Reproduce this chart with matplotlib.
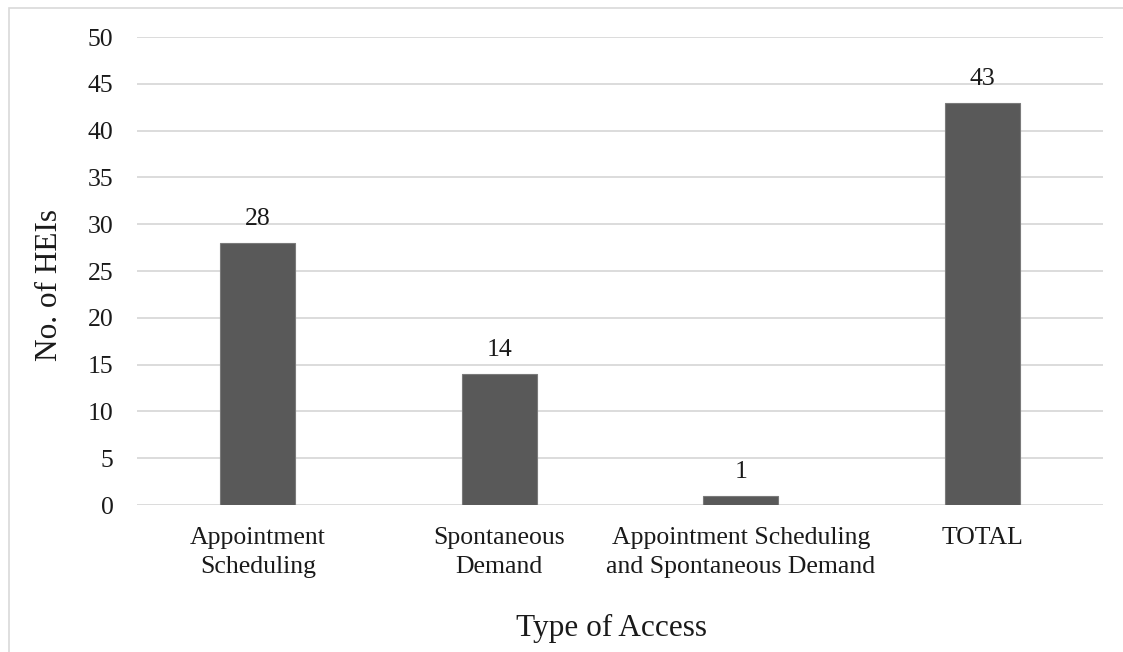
import matplotlib
matplotlib.use("Agg")
import matplotlib.pyplot as plt
from matplotlib.patches import Rectangle

categories = ["Appointment\nScheduling", "Spontaneous\nDemand",
              "Appointment Scheduling\nand Spontaneous Demand", "TOTAL"]
values = [28, 14, 1, 43]
yticks = [0, 5, 10, 15, 20, 25, 30, 35, 40, 45, 50]

plt.rcParams['font.family'] = ['Liberation Serif', 'DejaVu Serif']

W, H = 1123, 652
fig = plt.figure(figsize=(W / 100, H / 100), dpi=100)
fig.patch.set_facecolor("white")

# light border around chart area
fig.add_artist(Rectangle((9 / W, -0.01), 1.2, 1 - 8 / H + 0.01, transform=fig.transFigure,
                         fill=False, edgecolor="#d9d9d9", linewidth=1.2))

ax = fig.add_axes([137 / W, (H - 505) / H, (1103 - 137) / W, (505 - 37) / H])
x = list(range(len(categories)))
ax.bar(x, values, width=0.31, color="#595959", edgecolor="#7a7a7a",
       linewidth=0.8, zorder=3)
ax.set_xlim(-0.5, len(categories) - 0.5)
ax.set_ylim(0, 50)
ax.set_yticks(yticks)
ax.set_xticks(x)
ax.set_xticklabels(categories, fontsize=18.5, linespacing=1.42, color="#1a1a1a")
ax.tick_params(axis="y", length=0, pad=17, labelsize=18.5, labelcolor="#1a1a1a")
ax.tick_params(axis="x", length=0, pad=16)
ax.grid(axis="y", color="#d9d9d9", linewidth=1.3, zorder=0)
ax.set_axisbelow(True)
for s in ax.spines.values():
    s.set_visible(False)

for xi, v in zip(x, values):
    ax.annotate(str(v), (xi, v), xytext=(0, 9), textcoords="offset points",
                ha="center", va="bottom", fontsize=18.5, color="#1a1a1a")

fig.text(50 / W, 1 - 285 / H, "No. of HEIs", rotation=90, ha="center", va="center",
         fontsize=22.5, color="#1a1a1a")
fig.text(611 / W, 1 - 628 / H, "Type of Access", ha="center", va="center",
         fontsize=22.5, color="#1a1a1a")

fig.savefig("out.png", dpi=100, facecolor="white")
